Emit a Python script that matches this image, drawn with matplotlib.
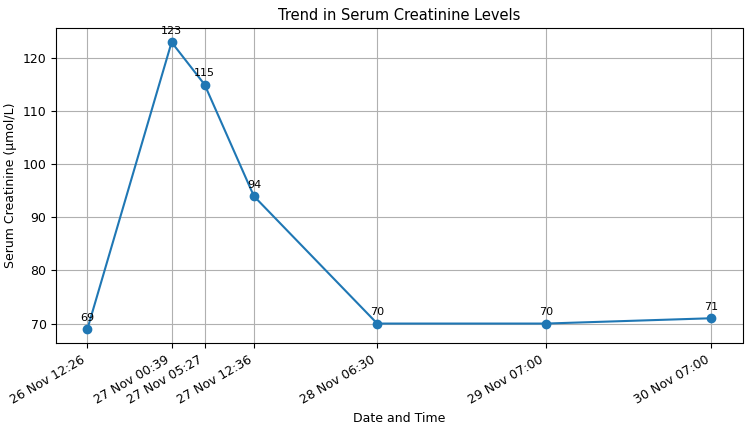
import matplotlib
matplotlib.use('Agg')
import matplotlib.pyplot as plt
import matplotlib.dates as mdates
from datetime import datetime

times = ['2023-11-26 12:26', '2023-11-27 00:39', '2023-11-27 05:27', '2023-11-27 12:36',
         '2023-11-28 06:30', '2023-11-29 07:00', '2023-11-30 07:00']
creat = [69, 123, 115, 94, 70, 70, 71]

dates = [datetime.strptime(s, '%Y-%m-%d %H:%M') for s in times]

fig, ax = plt.subplots(figsize=(7.5, 4.29), dpi=100)
ax.plot(dates, creat, marker='o', color='#1f77b4')
for d, v in zip(dates, creat):
    ax.annotate(str(v), (d, v), textcoords='offset points', xytext=(0, 6),
                ha='center', fontsize=8)

ax.set_xticks(dates)
ax.xaxis.set_major_formatter(mdates.DateFormatter('%d %b %H:%M'))
ax.tick_params(labelsize=9)
ax.set_title('Trend in Serum Creatinine Levels', fontsize=10.5)
ax.set_xlabel('Date and Time', fontsize=9)
ax.set_ylabel('Serum Creatinine (µmol/L)', fontsize=9)
ax.grid(True)
fig.autofmt_xdate()
fig.subplots_adjust(left=0.075, right=0.99, top=0.935, bottom=0.2)
fig.savefig('out.png', dpi=100)
